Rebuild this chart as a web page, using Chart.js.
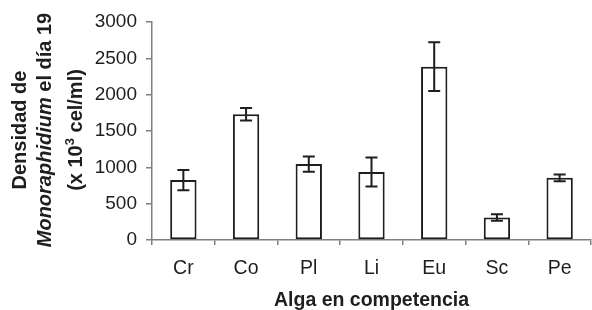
<!DOCTYPE html>
<html>
<head>
<meta charset="utf-8">
<script src="https://cdn.jsdelivr.net/npm/chart.js@4/dist/chart.umd.min.js"></script>
<style>
  html, body { margin: 0; padding: 0; background: #fff; }
  #wrap { width: 592px; height: 310px; }
</style>
</head>
<body>
<div id="wrap"><canvas id="densidad"></canvas></div>
<script>
// Alga en competencia
const categories = ['Cr', 'Co', 'Pl', 'Li', 'Eu', 'Sc', 'Pe']
// Densidad de Monoraphidium el dia 19 (x 10^3 cel/ml)
const densidad = [825, 1730, 1045, 935, 2385, 310, 855]
// error bars (+/-)
const errores = [140, 85, 105, 200, 335, 45, 45]
const yTicks = [0, 500, 1000, 1500, 2000, 2500, 3000]

const FONT = '"Liberation Sans", Arial, sans-serif'
const INK = '#1e1e1e'
const AXIS = '#808080'

// error bars with caps
const errorBars = {
  id: 'errorBars',
  afterDatasetsDraw(chart) {
    const ctx = chart.ctx
    const y = chart.scales.y
    const meta = chart.getDatasetMeta(0)
    ctx.save()
    ctx.strokeStyle = INK
    ctx.lineWidth = 2
    meta.data.forEach((bar, i) => {
      const top = y.getPixelForValue(densidad[i] + errores[i])
      const bot = y.getPixelForValue(densidad[i] - errores[i])
      const cap = 6
      ctx.beginPath()
      ctx.moveTo(bar.x, top); ctx.lineTo(bar.x, bot)
      ctx.moveTo(bar.x - cap, top); ctx.lineTo(bar.x + cap, top)
      ctx.moveTo(bar.x - cap, bot); ctx.lineTo(bar.x + cap, bot)
      ctx.stroke()
    })
    ctx.restore()
  }
}

// axis titles (y title has an italic word and a superscript)
const axisTitles = {
  id: 'axisTitles',
  afterDraw(chart) {
    const ctx = chart.ctx
    const area = chart.chartArea
    const bold = 'bold 20px ' + FONT
    const boldIt = 'italic bold 20px ' + FONT
    const sup = 'bold 13px ' + FONT
    ctx.save()
    ctx.fillStyle = INK
    ctx.textBaseline = 'alphabetic'

    // x title
    ctx.font = 'bold 19.5px ' + FONT
    ctx.textAlign = 'center'
    ctx.fillText('Alga en competencia', (area.left + area.right) / 2, 306)

    // y title, rotated
    ctx.translate(0, 130)
    ctx.rotate(-Math.PI / 2)
    ctx.textAlign = 'left'

    const drawLine = (parts, base) => {
      let total = 0
      parts.forEach(p => { ctx.font = p.font; total += ctx.measureText(p.text).width })
      let x = -total / 2
      parts.forEach(p => {
        ctx.font = p.font
        ctx.fillText(p.text, x, base + (p.rise || 0))
        x += ctx.measureText(p.text).width
      })
    }
    drawLine([{ text: 'Densidad de', font: bold }], 26)
    drawLine([{ text: 'Monoraphidium', font: boldIt }, { text: ' el día 19', font: bold }], 51)
    drawLine([
      { text: '(x 10', font: bold },
      { text: '3', font: sup, rise: -8 },
      { text: ' cel/ml)', font: bold }
    ], 82)
    ctx.restore()
  }
}

const ctx = document.getElementById('densidad').getContext('2d')

new Chart(ctx, {
  type: 'bar',
  data: {
    labels: categories,
    datasets: [{
      data: densidad,
      backgroundColor: '#ffffff',
      borderColor: INK,
      borderWidth: 2,
      borderSkipped: false,
      categoryPercentage: 1,
      barPercentage: 0.42
    }]
  },
  options: {
    responsive: true,
    maintainAspectRatio: false,
    animation: false,
    devicePixelRatio: 1,
    layout: { padding: { top: 22, right: 1, left: 0, bottom: 0 } },
    plugins: {
      legend: { display: false },
      tooltip: { enabled: false }
    },
    scales: {
      x: {
        offset: true,
        afterFit: s => { s.height = 70 },
        grid: { offset: true, drawOnChartArea: false, drawTicks: true, tickLength: 5, color: AXIS, lineWidth: 1.5 },
        border: { color: AXIS, width: 1.5 },
        ticks: { color: INK, padding: 12, font: { family: FONT, size: 19.5 } }
      },
      y: {
        min: 0,
        max: 3000,
        afterFit: s => { s.width = 152 },
        afterBuildTicks: s => { s.ticks = yTicks.map(v => ({ value: v })) },
        grid: { drawOnChartArea: false, drawTicks: true, tickLength: 6, color: AXIS, lineWidth: 1.5 },
        border: { color: AXIS, width: 1.5 },
        ticks: {
          color: INK, padding: 9, font: { family: FONT, size: 19 },
          callback: v => String(v)
        }
      }
    }
  },
  plugins: [errorBars, axisTitles]
})
</script>
</body>
</html>
